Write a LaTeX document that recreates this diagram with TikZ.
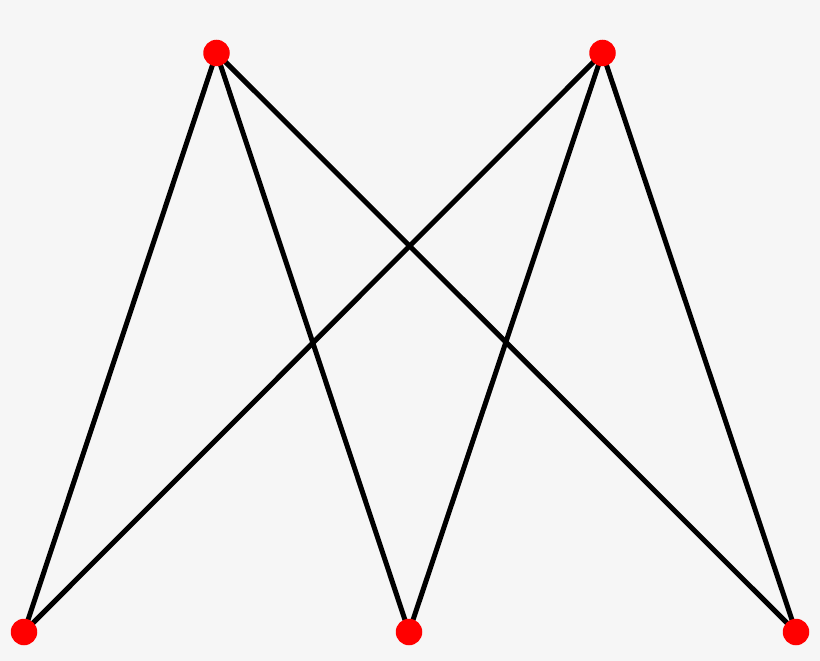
\documentclass[tikz,border=0pt]{standalone}
\begin{document}
\begin{tikzpicture}[x=1pt,y=-1pt,
  vert/.style={circle,fill=red,inner sep=0pt,minimum size=26.5pt},
  edge/.style={line width=5pt,black}]
\fill[fill={rgb,255:red,246;green,246;blue,246}] (0,0) rectangle (820,661);
\useasboundingbox (0,0) rectangle (820,661);
\coordinate (a) at (216.5,53);
\coordinate (b) at (602.5,53);
\coordinate (c) at (24,632);
\coordinate (d) at (409,632);
\coordinate (e) at (796,632);
\foreach \t in {a,b}{\foreach \s in {c,d,e}{\draw[edge] (\t) -- (\s);}}
\node[vert] (na) at (a) {};
\node[vert] (nb) at (b) {};
\node[vert] (nc) at (c) {};
\node[vert] (nd) at (d) {};
\node[vert] (ne) at (e) {};
\end{tikzpicture}
\end{document}
